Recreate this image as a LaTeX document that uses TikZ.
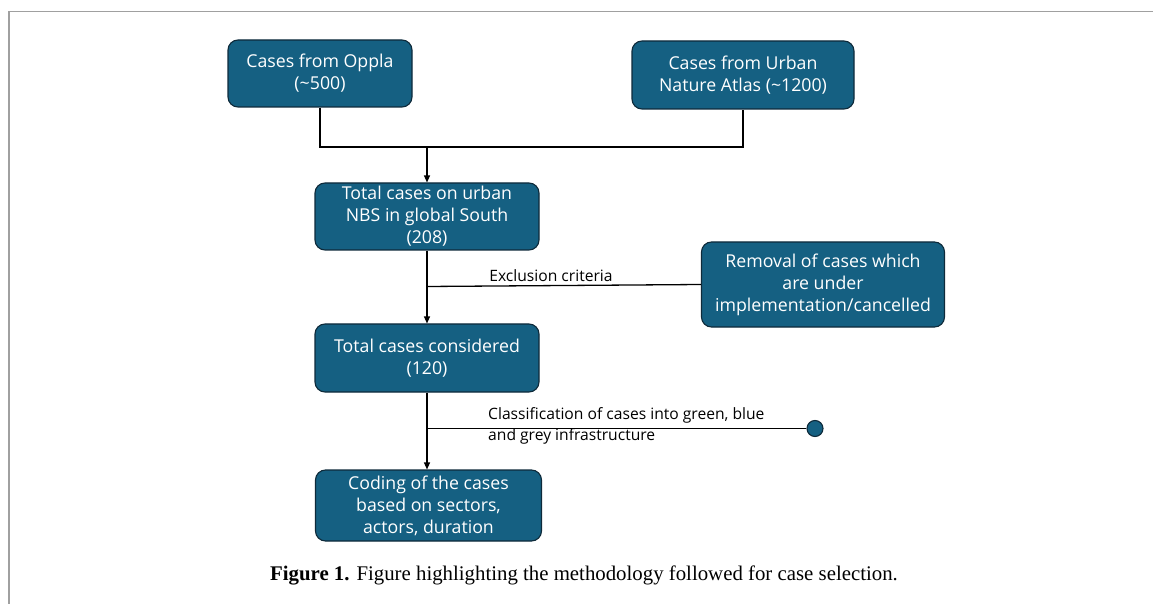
\documentclass[tikz,border=0pt]{standalone}
\usepackage{fontspec}
\setmainfont{Liberation Serif}
\newfontfamily\boxfont[Ligatures=NoCommon]{Open Sans}
\usetikzlibrary{arrows.meta}
\definecolor{boxblue}{HTML}{156082}
\definecolor{boxedge}{HTML}{0E2A3A}
\definecolor{framegray}{HTML}{A0A0A0}
\begin{document}
\begin{tikzpicture}[x=1bp,y=-1bp,
  flowbox/.style={draw=boxedge, line width=1.1bp, fill=boxblue, rounded corners=10bp,
    text=white, align=center, inner sep=0pt, font=\boxfont\fontsize{17.8}{22}\selectfont},
  link/.style={draw=black, line width=1.3bp},
  arrowlink/.style={link, -{Triangle[length=7bp,width=6bp]}},
  lbl/.style={font=\boxfont\fontsize{15.7}{21}\selectfont, align=left, inner sep=0pt},
  enddot/.style={circle, draw=boxedge, line width=1.1bp, fill=boxblue, minimum size=16bp, inner sep=0pt}]
\useasboundingbox (0,0) rectangle (1153,604);
\draw[framegray, line width=1.5bp] (1153,11.5) -- (9,11.5) -- (9,604);

\node[flowbox, minimum width=184bp, minimum height=67bp] (oppla) at (320,73.5) {Cases from Oppla\\(\textasciitilde500)};
\node[flowbox, minimum width=222bp, minimum height=68bp] (una) at (743,75) {Cases from Urban\\Nature Atlas (\textasciitilde1200)};
\node[flowbox, minimum width=224bp, minimum height=67bp] (total) at (427,216.5) {Total cases on urban\\NBS in global South\\(208)};
\node[flowbox, minimum width=243bp, minimum height=85bp] (removal) at (823,284.5) {Removal of cases which\\are under\\implementation/cancelled};
\node[flowbox, minimum width=224bp, minimum height=68bp] (considered) at (427,358) {Total cases considered\\(120)};
\node[flowbox, minimum width=226bp, minimum height=71bp] (coding) at (428.5,505.5) {Coding of the cases\\based on sectors,\\actors, duration};
\node[enddot] (dot) at (815,428.5) {};

\coordinate (j) at (427,147);
\coordinate (e1) at (427,286.5);
\coordinate (c1) at (427,428.5);

\draw[link] (oppla.south) |- (j) -| (una.south);
\draw[arrowlink] (j) -- (total.north);
\draw[arrowlink] (total.south) -- (considered.north);
\draw[link] (e1) -- (removal.west);
\draw[arrowlink] (considered.south) -- (coding.north -| considered.south);
\draw[link] (c1) -- (dot.west);

\node[lbl, anchor=south] (exlbl) at (551,282) {Exclusion criteria};
\node[lbl, anchor=west] (cllbl) at (488,426) {Classification of cases into green, blue\\and grey infrastructure};

\node[font=\fontsize{20.9}{24}\selectfont, inner sep=0pt] (caption) at (584,575) {\textbf{Figure 1.} Figure highlighting the methodology followed for case selection.};
\end{tikzpicture}
\end{document}
